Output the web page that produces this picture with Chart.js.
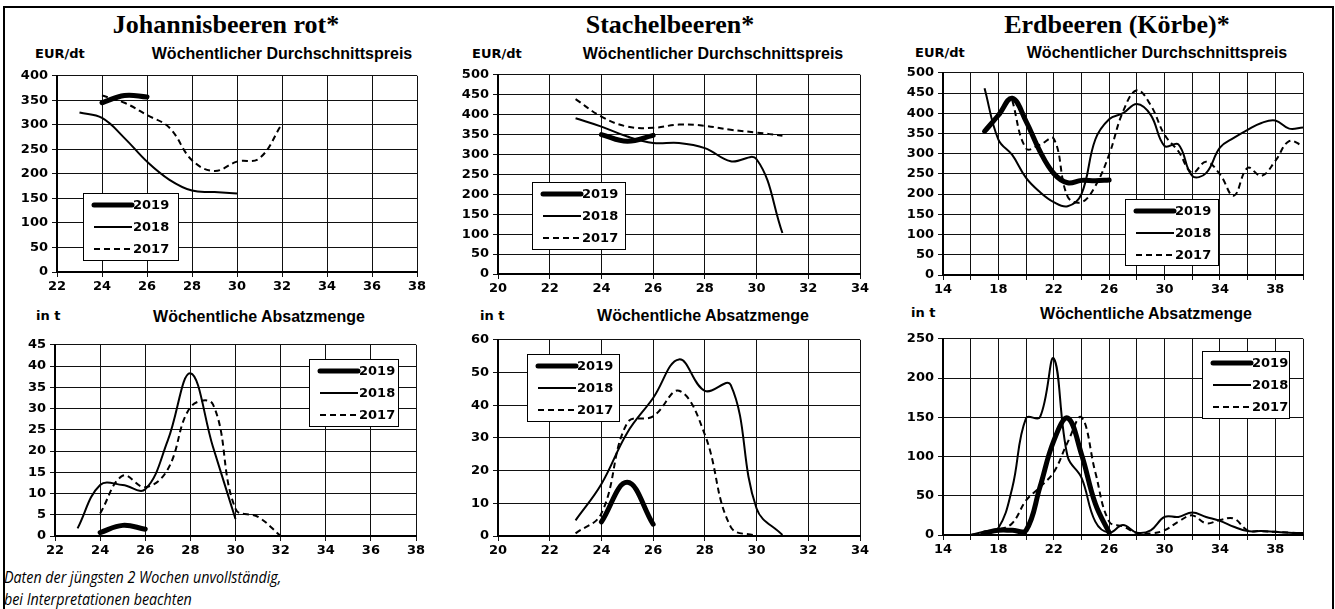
<!DOCTYPE html>
<html>
<head>
<meta charset="utf-8">
<script src="https://cdn.jsdelivr.net/npm/chart.js@4.4.1/dist/chart.umd.min.js"></script>
<style>
  body { margin: 0; width: 1335px; height: 609px; overflow: hidden; position: relative; background: #fff; }
  #frame { position: absolute; left: 3px; top: 6px; width: 1327px; height: 640px; border: 2px solid #000; }
  .t { position: absolute; white-space: nowrap; color: #000; line-height: 1; }
  .main { font: bold 26px "Liberation Serif", serif; transform: translateX(-50%); }
  .sub { font: bold 16px "Liberation Sans", Arial, sans-serif; transform: translateX(-50%); }
  .unit { font: bold 13px "DejaVu Sans", sans-serif; }
  .note { font: italic 17px "Open Sans", sans-serif; left: 4px; line-height: 22px; transform: scaleX(0.84); transform-origin: 0 0; }
  canvas { position: absolute; }
</style>
</head>
<body>
<div id="frame"></div>

<div class="t main" style="left:226px;top:10px">Johannisbeeren rot*</div>
<div class="t main" style="left:670px;top:10px">Stachelbeeren*</div>
<div class="t main" style="left:1117px;top:10px">Erdbeeren (Körbe)*</div>

<div class="t unit" style="left:35px;top:46px">EUR/dt</div>
<div class="t unit" style="left:472px;top:46px">EUR/dt</div>
<div class="t unit" style="left:915px;top:45px">EUR/dt</div>
<div class="t sub" style="left:282px;top:45px">Wöchentlicher Durchschnittspreis</div>
<div class="t sub" style="left:713px;top:45px">Wöchentlicher Durchschnittspreis</div>
<div class="t sub" style="left:1157px;top:44px">Wöchentlicher Durchschnittspreis</div>

<div class="t unit" style="left:36px;top:308px">in t</div>
<div class="t unit" style="left:480px;top:308px">in t</div>
<div class="t unit" style="left:911px;top:305px">in t</div>
<div class="t sub" style="left:259px;top:308px">Wöchentliche Absatzmenge</div>
<div class="t sub" style="left:703px;top:307px">Wöchentliche Absatzmenge</div>
<div class="t sub" style="left:1146px;top:305px">Wöchentliche Absatzmenge</div>

<div class="t note" style="top:566px">Daten der jüngsten 2 Wochen unvollständig,<br>bei Interpretationen beachten</div>

<script>
// Johannisbeeren rot
const jbWeeks19 = [24, 25, 26];
const jbWeeks18 = [23, 24, 25, 26, 27, 28, 29, 30];
const jbWeeks17 = [24, 25, 26, 27, 28, 29, 30, 31, 32];
const jbPrice19 = [345, 360, 357];
const jbPrice18 = [325, 314, 273, 225, 188, 166, 163, 160];
const jbPrice17 = [360, 345, 320, 294, 228, 206, 225, 232, 302];
const jbVol19 = [0.8, 2.5, 1.6];
const jbVol18 = [1.8, 12, 12, 11, 22.5, 38.3, 21, 4];
const jbVol17 = [5.3, 14.2, 11.5, 15.7, 30.3, 31, 6.4, 4.5, 0];

// Stachelbeeren
const sbWeeks19 = [24, 25, 26];
const sbWeeks18 = [23, 24, 25, 26, 27, 28, 29, 30, 31];
const sbPriceWeeks17 = [23, 24, 25, 26, 27, 28, 29, 30, 31];
const sbVolWeeks17 = [23, 24, 25, 26, 27, 28, 29, 30];
const sbPrice19 = [350, 333, 348];
const sbPrice18 = [391, 370, 345, 329, 329, 316, 283, 288, 103];
const sbPrice17 = [439, 395, 370, 367, 375, 372, 362, 355, 347];
const sbVol19 = [4.3, 16.4, 3.6];
const sbVol18 = [4.8, 15.9, 31.6, 42.2, 54, 44.4, 46.2, 8.4, 0.3];
const sbVol17 = [0.8, 6.9, 34.6, 36.6, 44.4, 31, 2.8, 0];

// Erdbeeren (Körbe)
const ebWeeks19 = [17, 18, 19, 20, 21, 22, 23, 24, 25, 26];
const ebPriceWeeks18 = [17, 18, 19, 20, 21, 22, 23, 24, 25, 26, 27, 28, 29, 30, 31, 32, 33, 34, 35, 36, 37, 38, 39, 40];
const ebPriceWeeks17 = [19, 20, 21, 22, 23, 24, 25, 26, 27, 28, 29, 30, 31, 32, 33, 34, 35, 36, 37, 38, 39, 40];
const ebVolWeeks = [16, 17, 18, 19, 20, 21, 22, 23, 24, 25, 26, 27, 28, 29, 30, 31, 32, 33, 34, 35, 36, 37, 38, 39, 40];
const ebPrice19 = [355, 395, 437, 380, 306, 251, 228, 234, 233, 235];
const ebPrice18 = [462, 335, 297, 240, 205, 180, 170, 200, 335, 385, 400, 423, 396, 319, 323, 245, 252, 315, 339, 359, 376, 382, 362, 365];
const ebPrice17 = [432, 313, 322, 337, 194, 180, 220, 298, 404, 457, 420, 347, 306, 253, 280, 249, 196, 265, 245, 282, 331, 319];
const ebVol19 = [2.5, 6, 6, 6, 61, 120, 149, 103, 40, 3];
const ebVol18 = [0, 4.6, 9, 60, 149, 150, 225, 100, 73, 17, 3, 12.6, 3, 6, 23, 23, 28.6, 23, 18, 10.5, 5, 5, 4, 3, 2.5];
const ebVol17 = [0, 2.5, 6.7, 15, 44, 61, 80, 118, 150, 80, 17, 11, 2.5, 2, 6, 17, 25, 15, 19, 21, 6, 5, 4, 3, 2];

const Y_W = 50, X_H = 26, PAD_T = 10, PAD_R = 12;
const tickFont = { family: 'DejaVu Sans', weight: 'bold', size: 13 };

const yearStyle = {
  2019: { borderWidth: 5, borderCapStyle: 'round', borderJoinStyle: 'round' },
  2018: { borderWidth: 2 },
  2017: { borderWidth: 2, borderDash: [6, 4] }
};

const pts = (weeks, vals) => weeks.map((w, i) => ({ x: w, y: vals[i] }));

// legend drawn as a boxed list inside the plot, like the spreadsheet original
const boxLegend = {
  id: 'boxLegend',
  afterDraw(chart, args, opts) {
    const { ctx, chartArea } = chart;
    const x = Math.round(chartArea.left + opts.x), y = Math.round(chartArea.top + opts.y);
    ctx.save();
    ctx.fillStyle = '#fff';
    ctx.fillRect(x, y, opts.w, opts.h);
    ctx.strokeStyle = '#000';
    ctx.lineWidth = 1;
    ctx.strokeRect(x + 0.5, y + 0.5, opts.w, opts.h);
    chart.data.datasets.forEach((ds, i) => {
      const ly = y + 12 + i * 22;
      ctx.beginPath();
      ctx.setLineDash(ds.borderDash || []);
      ctx.lineWidth = ds.borderWidth;
      ctx.lineCap = ds.borderCapStyle || 'butt';
      ctx.moveTo(x + 11, ly);
      ctx.lineTo(x + 49, ly);
      ctx.stroke();
      ctx.setLineDash([]);
      ctx.fillStyle = '#000';
      ctx.font = 'bold 13px "DejaVu Sans"';
      ctx.textBaseline = 'middle';
      ctx.fillText(ds.label, x + 50, ly + 1);
    });
    ctx.restore();
  }
};

function makeChart(area, xr, yr, series, legend) {
  const c = document.createElement('canvas');
  const w = area.r - area.l + Y_W + PAD_R, h = area.b - area.t + PAD_T + X_H;
  c.width = w; c.height = h;
  c.style.left = (area.l - Y_W) + 'px';
  c.style.top = (area.t - PAD_T) + 'px';
  c.style.width = w + 'px';
  c.style.height = h + 'px';
  document.body.appendChild(c);

  new Chart(c, {
    type: 'line',
    data: {
      datasets: series.map(s => Object.assign({
        label: s.label,
        data: pts(s.weeks, s.vals),
        borderColor: '#000',
        pointRadius: 0,
        tension: 0.4,
        fill: false
      }, yearStyle[s.label]))
    },
    options: {
      responsive: false,
      animation: false,
      layout: { padding: { left: 0, top: PAD_T, right: PAD_R, bottom: 0 } },
      plugins: { legend: { display: false }, tooltip: { enabled: false }, boxLegend: legend },
      scales: {
        x: {
          type: 'linear', min: xr.min, max: xr.max,
          border: { color: '#000', width: 2 },
          grid: { color: '#111', lineWidth: 1, tickLength: 5 },
          ticks: {
            stepSize: 2, autoSkip: false, maxRotation: 0, padding: 2,
            color: '#000', font: tickFont,
            callback: v => ((v - xr.min) % xr.label === 0 ? v : '')
          },
          afterFit(s) { s.height = X_H; }
        },
        y: {
          min: 0, max: yr.max,
          border: { color: '#000', width: 2 },
          grid: { color: '#111', lineWidth: 1, tickLength: 5 },
          ticks: { stepSize: yr.step, padding: 4, color: '#000', font: tickFont },
          afterFit(s) { s.width = Y_W; }
        }
      }
    },
    plugins: [boxLegend]
  });
}

// Johannisbeeren rot
makeChart({ l: 57, t: 74, r: 417, b: 272 }, { min: 22, max: 38, label: 2 }, { max: 400, step: 50 }, [
  { label: '2019', weeks: jbWeeks19, vals: jbPrice19 },
  { label: '2018', weeks: jbWeeks18, vals: jbPrice18 },
  { label: '2017', weeks: jbWeeks17, vals: jbPrice17 }
], { x: 26, y: 117, w: 95, h: 67 });

makeChart({ l: 55, t: 343, r: 416, b: 536 }, { min: 22, max: 38, label: 2 }, { max: 45, step: 5 }, [
  { label: '2019', weeks: jbWeeks19, vals: jbVol19 },
  { label: '2018', weeks: jbWeeks18, vals: jbVol18 },
  { label: '2017', weeks: jbWeeks17, vals: jbVol17 }
], { x: 254, y: 14, w: 89, h: 67 });

// Stachelbeeren
makeChart({ l: 498, t: 73, r: 860, b: 274 }, { min: 20, max: 34, label: 2 }, { max: 500, step: 50 }, [
  { label: '2019', weeks: sbWeeks19, vals: sbPrice19 },
  { label: '2018', weeks: sbWeeks18, vals: sbPrice18 },
  { label: '2017', weeks: sbPriceWeeks17, vals: sbPrice17 }
], { x: 34, y: 107, w: 93, h: 67 });

makeChart({ l: 498, t: 338, r: 860, b: 536 }, { min: 20, max: 34, label: 2 }, { max: 60, step: 10 }, [
  { label: '2019', weeks: sbWeeks19, vals: sbVol19 },
  { label: '2018', weeks: sbWeeks18, vals: sbVol18 },
  { label: '2017', weeks: sbVolWeeks17, vals: sbVol17 }
], { x: 29, y: 14, w: 92, h: 67 });

// Erdbeeren (Körbe)
makeChart({ l: 943, t: 71, r: 1303, b: 275 }, { min: 14, max: 40, label: 4 }, { max: 500, step: 50 }, [
  { label: '2019', weeks: ebWeeks19, vals: ebPrice19 },
  { label: '2018', weeks: ebPriceWeeks18, vals: ebPrice18 },
  { label: '2017', weeks: ebPriceWeeks17, vals: ebPrice17 }
], { x: 182, y: 126, w: 93, h: 66 });

makeChart({ l: 943, t: 337, r: 1303, b: 535 }, { min: 14, max: 40, label: 4 }, { max: 250, step: 50 }, [
  { label: '2019', weeks: ebWeeks19, vals: ebVol19 },
  { label: '2018', weeks: ebVolWeeks, vals: ebVol18 },
  { label: '2017', weeks: ebVolWeeks, vals: ebVol17 }
], { x: 259, y: 12, w: 87, h: 67 });
</script>
</body>
</html>
